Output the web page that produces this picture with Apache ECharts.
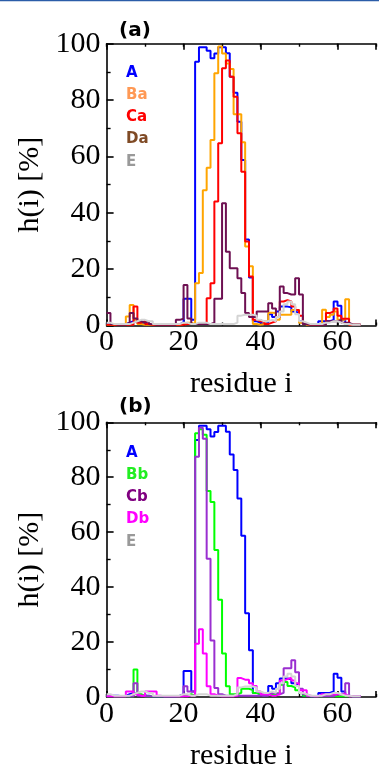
<!DOCTYPE html>
<html>
<head>
<meta charset="utf-8">
<script src="https://cdn.jsdelivr.net/npm/echarts@6/dist/echarts.min.js"></script>
<style>
html,body{margin:0;padding:0;background:#fff;}
#chart{width:379px;height:772px;}
</style>
</head>
<body>
<div id="chart"></div>
<script>
// residue index
const residue = [0,1,2,3,4,5,6,7,8,9,10,11,12,13,14,15,16,17,18,19,20,21,22,23,24,25,26,27,28,29,30,31,32,33,34,35,36,37,38,39,40,41,42,43,44,45,46,47,48,49,50,51,52,53,54,55,56,57,58,59,60,61,62,63,64,65,66];

// h(i) [%] values, value i holds over residue i .. i+1
const A  = [0.5,0.5,0.5,0.3,0.5,1,1.5,1,0.5,0.5, 0.5,0.3,0.3,0.3,0.3,0.3,0.3,0.3,0.5,1, 9.5,9.5,2,93.6,98.7,98.7,97.5,94.8,96.5,98.7, 98.7,96.6,88.3,82.6,72.3,58.7,30.5,17,1.5,1, 0.5,1,4,3,5,6.7,6.7,6.5,5,4.5, 1.5,0.5,0.3,0.3,0.5,1.5,1.5,1.5,2,8.5, 7,2,0.5,0.3,0.3,0.3,0.3];
const Ba = [0.3,0.3,0.3,0.3,0.3,3.2,7.3,2,0.5,0.3, 0.3,0.3,0.3,0.3,0.3,0.3,0.3,0.3,0.3,0.5, 1,1,0.5,15,18.6,48,56,65.8,89.5,99, 96.5,93,91,75,75,65,28,21,0.5,0.3, 0.5,1.5,4.5,4.4,2,3.8,3.8,3.8,5.5,5.5, 1,0.3,0.3,0.3,0.3,0.5,5.6,3,3.8,5, 2,2,9.3,0.3,0.3,0.3,0.3];
const Ca = [0.3,0.3,0.3,0.3,0.3,0.3,0.3,6.7,1,1.5, 0.5,0.3,0.3,0.3,0.3,0.3,0.3,0.3,0.3,0.3, 0.5,0.5,0.5,0.5,0.5,0.5,9.7,15,44,64.7, 91.3,94,88.3,81.2,68.2,54.6,29.8,17.4,2,1.5, 1.4,0.5,1,1.5,3,8.5,9,8.5,6.7,5.5, 3.5,0.5,0.3,0.3,0.3,0.3,1,4.4,5,6, 3.5,2.4,2.4,0.3,0.3,0.3,0.3];
const Da = [4.4,0.5,0.3,0.3,0.3,1,4.4,2.5,1.5,1, 1.5,0.5,0.3,0.3,0.3,0.3,0.3,0.3,2,2.4, 14.4,2.5,0.5,0.5,0.5,0.5,0.5,1,9.5,9.5, 43.4,26.2,20.3,20.3,16.8,11.5,4.4,3,3,5, 5,5,7.9,6,3,13.8,11.5,11,11,16.8, 11,0.5,0.3,0.3,0.3,0.3,0.3,1.5,1.5,1.5, 2,1,1,0.3,0.3,0.3,0.3];
const E  = [1,0.5,0.5,0.5,0.5,0.5,1,1.5,2,2, 1.5,1.5,0.5,0.5,0.5,0.5,0.5,0.5,0.5,1, 1,0.5,0.5,1,1,1,0.5,0.5,0.5,0.5, 0.5,0.5,0.5,1,3.5,3.8,3.8,3.8,3.5,2, 1.5,1.5,2,1.5,3,5,7.5,8.5,7.5,4, 1.5,1,0.5,0.5,0.5,0.5,1,1,1.5,1.5, 1,0.5,0.5,0.3,0.3,0.3,0.3];
const Bb = [0.3,0.3,0.3,0.3,0.3,0.3,0.3,10,1,0.3, 0.3,0.3,0.3,0.3,0.3,0.3,0.3,0.3,0.3,0.3, 0.5,1,0.5,96,97.5,95.5,75,71,53.5,35.4, 15.8,3.9,1,1,1.5,3,3,2.5,1.5,1, 0.5,1,1,1,1.5,4.5,5.5,4,3.5,2.5, 1.5,0.5,0.3,0.3,0.3,0.3,0.3,0.3,0.3,0.3, 0.3,0.3,0.3,0.3,0.3,0.3,0.3];
const Cb = [0.3,0.3,0.3,0.3,0.3,0.3,0.3,5,0.5,0.3, 0.3,0.3,0.3,0.3,0.3,0.3,0.3,0.3,0.3,0.3, 3.9,2,2,87.5,98,94,50.3,20.6,3.3,1, 0.5,0.5,0.5,0.5,0.5,0.5,0.5,0.5,0.5,0.5, 0.5,0.5,1.5,1.5,1,1.5,10.5,10.5,13.4,9, 3,1,0.3,0.3,0.3,0.3,0.3,0.3,0.3,1, 1,1,5,0.3,0.3,0.3,0.3];
const Db = [0.3,0.3,0.3,0.3,0.3,2,2,1,0.5,0.5, 2,2,2,0.5,0.3,0.3,0.3,0.3,0.3,0.3, 0.3,0.5,0.5,19.4,24.7,15.8,3.9,1,0.5,0.3, 0.3,0.3,0.3,0.5,6.9,6.3,6.3,5,4,2, 1,1,0.5,0.5,1,6,6.5,7,6,5, 2.5,2.5,0.5,0.3,0.3,1,1,1,1,1, 1,1,0.3,0.3,0.3,0.3,0.3];

const xTicksMajor = [0, 20, 40, 60];
const yTicks = [0, 20, 40, 60, 80, 100];

const chart = echarts.init(document.getElementById('chart'), null, {renderer: 'canvas'});
const serif = '"Liberation Serif", "Times New Roman", serif';
const sans = '"DejaVu Sans", sans-serif';

function pairs(v) { return residue.map((r, i) => [r, v[i]]); }

const grids = [
  {left: 106.6, top: 43.7, width: 279, height: 281.8},
  {left: 106.6, top: 422.3, width: 279, height: 280.7}
];

const xAxes = [];
const yAxes = [];
grids.forEach((g, gi) => {
  xAxes.push({
    gridIndex: gi, type: 'value', min: 0, max: 70, interval: 20, position: 'bottom',
    axisLine: {show: true, onZero: false, lineStyle: {color: '#000', width: 1.6}},
    axisTick: {show: true, inside: true, length: 6, lineStyle: {color: '#000', width: 1.6}},
    splitLine: {show: false},
    axisLabel: {show: true, margin: 2, color: '#000', fontFamily: serif, fontSize: 30,
      formatter: v => (xTicksMajor.indexOf(v) >= 0 ? String(v) : '')},
    name: 'residue i', nameLocation: 'middle', nameGap: 44,
    nameTextStyle: {color: '#000', fontFamily: serif, fontSize: 30}
  });
  xAxes.push({
    gridIndex: gi, type: 'value', min: 0, max: 70, interval: 10, position: 'bottom',
    axisLine: {show: false}, axisLabel: {show: false}, splitLine: {show: false},
    axisTick: {show: true, inside: true, length: 3, lineStyle: {color: '#000', width: 1.4}}
  });
  xAxes.push({
    gridIndex: gi, type: 'value', min: 0, max: 70, interval: 20, position: 'top',
    axisLine: {show: true, onZero: false, lineStyle: {color: '#000', width: 1.6}},
    axisTick: {show: true, inside: true, length: 6, lineStyle: {color: '#000', width: 1.6}},
    axisLabel: {show: false}, splitLine: {show: false}
  });
  xAxes.push({
    gridIndex: gi, type: 'value', min: 0, max: 70, interval: 10, position: 'top',
    axisLine: {show: false}, axisLabel: {show: false}, splitLine: {show: false},
    axisTick: {show: true, inside: true, length: 3, lineStyle: {color: '#000', width: 1.4}}
  });
  yAxes.push({
    gridIndex: gi, type: 'value', min: 0, max: 100, interval: 20, position: 'left',
    axisLine: {show: true, onZero: false, lineStyle: {color: '#000', width: 1.6}},
    axisTick: {show: true, inside: true, length: 7, lineStyle: {color: '#000', width: 1.6}},
    minorTick: {show: true, splitNumber: 2, length: 4, lineStyle: {color: '#000', width: 1.4}},
    splitLine: {show: false}, minorSplitLine: {show: false},
    axisLabel: {show: true, margin: 6, color: '#000', fontFamily: serif, fontSize: 30,
      formatter: v => (yTicks.indexOf(v) >= 0 ? String(v) : '')},
    name: 'h(i) [%]', nameLocation: 'middle', nameGap: 60, nameRotate: 90,
    nameTextStyle: {color: '#000', fontFamily: serif, fontSize: 30}
  });
});

function mk(name, data, color, gi) {
  return {
    name: name, type: 'line', step: 'end', data: pairs(data),
    xAxisIndex: gi * 4, yAxisIndex: gi,
    showSymbol: false, symbol: 'none', silent: true, animation: false,
    lineStyle: {color: color, width: 2}, itemStyle: {color: color}
  };
}

const series = [
  mk('A', A, '#0000ff', 0),
  mk('Ba', Ba, '#ffa500', 0),
  mk('Ca', Ca, '#ff0000', 0),
  mk('Da', Da, '#6e1052', 0),
  mk('E', E, '#d4d4d4', 0),
  mk('A', A, '#0000ff', 1),
  mk('Bb', Bb, '#00ff00', 1),
  mk('Cb', Cb, '#9a2fd0', 1),
  mk('Db', Db, '#ff00ff', 1),
  mk('E', E, '#d4d4d4', 1)
];

function legendItem(name, color) {
  return {name: name, textStyle: {color: color, fontFamily: sans, fontWeight: 'bold', fontSize: 15, lineHeight: 15}};
}
const legendBase = {
  orient: 'vertical', icon: 'none', itemWidth: 0, itemHeight: 15, itemGap: 7.3,
  selectedMode: false, padding: 0,
  textStyle: {fontFamily: sans, fontWeight: 'bold', fontSize: 15, lineHeight: 15}
};

chart.setOption({
  animation: false,
  backgroundColor: '#fff',
  title: [
    {text: '(a)', left: 119, top: 21, padding: 0,
     textStyle: {fontFamily: sans, fontWeight: 'bold', fontSize: 20, color: '#000'}},
    {text: '(b)', left: 119, top: 397, padding: 0,
     textStyle: {fontFamily: sans, fontWeight: 'bold', fontSize: 20, color: '#000'}}
  ],
  legend: [
    Object.assign({}, legendBase, {left: 121, top: 65.2, data: [
      legendItem('A', '#0000ff'), legendItem('Ba', '#ff9955'), legendItem('Ca', '#ff0000'),
      legendItem('Da', '#7f4a25'), legendItem('E', '#999999')]}),
    Object.assign({}, legendBase, {left: 121, top: 445.2, data: [
      legendItem('A', '#0000ff'), legendItem('Bb', '#22ee22'), legendItem('Cb', '#800080'),
      legendItem('Db', '#ff00ff'), legendItem('E', '#999999')]})
  ],
  graphic: [
    {type: 'rect', shape: {x: 0, y: 0, width: 379, height: 1.2}, style: {fill: '#2b5ca8'}, silent: true}
  ],
  grid: grids,
  xAxis: xAxes,
  yAxis: yAxes,
  series: series
});
</script>
</body>
</html>
